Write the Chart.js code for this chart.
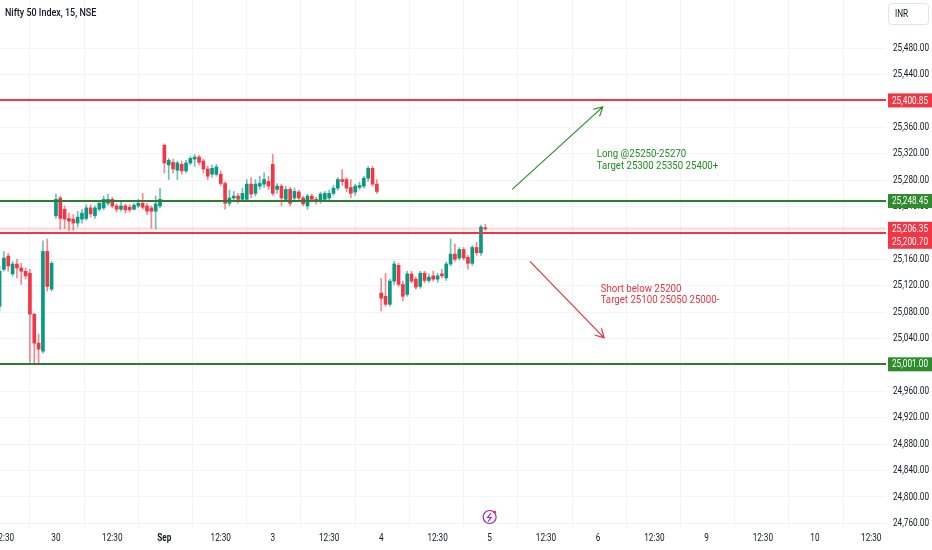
<!DOCTYPE html>
<html lang='en'>
  <head>
    <meta charset='UTF-8'>
    <title>Nifty 50 Index, 15, NSE</title>
    <script src='https://cdn.jsdelivr.net/npm/chart.js@4.4.1/dist/chart.umd.min.js'></script>
    <style>
      html, body { margin: 0; padding: 0; background: #ffffff; }
      #wrap { position: relative; width: 932px; height: 550px; }
    </style>
  </head>
  <body>
    <div id='wrap'><canvas id='grafico'></canvas></div>
    <script>
      // 15 minute bars, NSE session = 25 bars per day, index 0 = Aug 29 09:15
      const firstBar    = 12;
      const barsPerDay  = 25;
      const dayLabels   = ['29', '30', 'Sep', '3', '4', '5', '6', '9', '10'];
      const midDayLabel = '12:30';
      const midDayBar   = 13;

      // OHLC (Aug 29 12:15 -> Sep 4 15:15)
      const opens = [
        25089, 25145, 25165, 25138, 25153, 25147, 25142, 25139, 25077, 25033, 25021, 25172, 25115,
        25226, 25253, 25236, 25222, 25221, 25215, 25221, 25222, 25238, 25226, 25236, 25238, 25245,
        25251, 25241, 25236, 25241, 25239, 25236, 25241, 25245, 25241, 25238, 25233, 25241,
        25333, 25303, 25307, 25295, 25304, 25294, 25306, 25312, 25315, 25309, 25297, 25289, 25289,
        25289, 25275, 25245, 25253, 25256, 25251, 25251, 25274, 25260, 25271, 25274, 25278,
        25304, 25266, 25271, 25251, 25266, 25253, 25262, 25253, 25241, 25256, 25251, 25248, 25251,
        25253, 25260, 25268, 25281, 25281, 25269, 25262, 25269, 25271, 25283, 25298, 25274,
        25109, 25104, 25092, 25127, 25151, 25122, 25107, 25138, 25130, 25119, 25139, 25128, 25135,
        25130, 25138, 25132, 25153, 25168, 25162, 25175, 25163, 25154, 25178, 25170, 25207.5
      ];
      const highs = [
        25150, 25172, 25169, 25157, 25160, 25154, 25147, 25145, 25078, 25047, 25188, 25191, 25157,
        25259, 25256, 25241, 25230, 25228, 25233, 25236, 25243, 25243, 25241, 25248, 25256, 25259,
        25254, 25244, 25247, 25244, 25243, 25245, 25251, 25260, 25245, 25241, 25256, 25268,
        25335, 25313, 25312, 25309, 25309, 25310, 25316, 25319, 25318, 25312, 25301, 25303, 25304,
        25294, 25278, 25265, 25263, 25260, 25268, 25281, 25284, 25281, 25286, 25291, 25286,
        25319, 25275, 25274, 25271, 25269, 25268, 25265, 25256, 25259, 25259, 25254, 25262, 25263,
        25265, 25272, 25284, 25296, 25284, 25281, 25274, 25277, 25286, 25301, 25301, 25281,
        25131, 25139, 25130, 25157, 25154, 25127, 25142, 25142, 25133, 25142, 25142, 25138, 25142,
        25139, 25145, 25156, 25191, 25183, 25178, 25178, 25166, 25181, 25186, 25212, 25213
      ];
      const lows = [
        25082, 25142, 25142, 25135, 25132, 25122, 25130, 25004, 25003, 25001, 25018, 25112, 25112,
        25222, 25206, 25207, 25203, 25204, 25209, 25215, 25219, 25224, 25222, 25233, 25235, 25242,
        25238, 25232, 25233, 25230, 25232, 25235, 25238, 25236, 25228, 25207, 25206, 25238,
        25291, 25281, 25291, 25281, 25289, 25291, 25303, 25301, 25303, 25291, 25281, 25284, 25286,
        25272, 25236, 25241, 25248, 25245, 25248, 25248, 25253, 25256, 25266, 25269, 25266,
        25257, 25260, 25241, 25248, 25241, 25250, 25250, 25241, 25236, 25248, 25244, 25245, 25248,
        25250, 25257, 25265, 25272, 25263, 25253, 25257, 25266, 25268, 25278, 25271, 25260,
        25082, 25089, 25089, 25122, 25119, 25097, 25104, 25124, 25115, 25116, 25125, 25125, 25127,
        25125, 25132, 25128, 25150, 25157, 25159, 25159, 25145, 25151, 25166, 25166, 25204
      ];
      const closes = [
        25142, 25162, 25150, 25153, 25147, 25142, 25135, 25077, 25033, 25024, 25172, 25119, 25154,
        25251, 25222, 25221, 25218, 25215, 25224, 25230, 25238, 25229, 25238, 25245, 25251, 25251,
        25241, 25236, 25241, 25235, 25235, 25242, 25245, 25239, 25233, 25233, 25244, 25251,
        25306, 25310, 25297, 25306, 25294, 25306, 25313, 25315, 25307, 25297, 25286, 25298, 25300,
        25275, 25245, 25253, 25256, 25251, 25260, 25274, 25259, 25274, 25275, 25281, 25271,
        25260, 25271, 25253, 25266, 25245, 25263, 25253, 25244, 25256, 25251, 25248, 25259, 25260,
        25260, 25268, 25281, 25278, 25268, 25260, 25271, 25272, 25283, 25298, 25274, 25263,
        25101, 25092, 25127, 25153, 25122, 25104, 25138, 25127, 25118, 25139, 25128, 25133, 25130,
        25135, 25135, 25153, 25168, 25160, 25175, 25162, 25154, 25178, 25170, 25209, 25206.35
      ];

      // drawn horizontal levels
      const levelValues = [25400.85, 25248.45, 25200.70, 25001.00];
      const levelColors = ['#f23645', '#2e7d32', '#f23645', '#2e7d32'];

      // arrows and notes, in (bar index, price)
      const longArrow  = [[130.2, 25266], [151.1, 25391]];
      const shortArrow = [[134.3, 25157], [151.4, 25041]];
      const longNote   = ['Long @25250-25270', 'Target 25300 25350 25400+'];
      const shortNote  = ['Short below 25200', 'Target 25100 25050 25000-'];
      const longNoteAt  = [149.7, 25320];
      const shortNoteAt = [150.6, 25115];
      const eventBar    = 125;

      const yTickStart = 24760, yTickEnd = 25480, yTickStep = 40;
      const xMin = 12.1, xMax = 216.4;
      const yMin = 24753, yMax = 25553;

      const FONT  = 'Roboto, sans-serif';
      const TEXT  = '#131722';
      const UP    = '#089981';
      const DOWN  = '#f23645';
      const GREEN = '#2e8b2e';
      const GRID  = '#f3f4f7';
      const SQUEEZE = 0.78; // the original uses a narrow face

      let ctx = document.getElementById('grafico').getContext('2d');

      let barIdx = closes.map((c, k) => firstBar + k);
      let isUp   = k => closes[k] >= opens[k];

      // tick label lookup for the time axis
      let xTickText = {};
      dayLabels.forEach((d, n) => {
        xTickText[n * barsPerDay] = d;
        xTickText[n * barsPerDay + midDayBar] = midDayLabel;
      });

      function fmt(v) {
        return v.toLocaleString('en-US', {minimumFractionDigits: 2, maximumFractionDigits: 2});
      }

      // narrow text: squeeze horizontally around the anchor
      function narrowText(c, text, x, y, align, squeeze) {
        c.save();
        c.translate(x, y);
        c.scale(squeeze || SQUEEZE, 1);
        c.textAlign = align || 'left';
        c.textBaseline = 'middle';
        c.fillText(text, 0, 0);
        c.restore();
      }

      function arrow(c, x1, y1, x2, y2, color) {
        let a = Math.atan2(y2 - y1, x2 - x1), len = 10, spread = 0.5;
        c.strokeStyle = color;
        c.lineWidth = 1.2;
        c.beginPath();
        c.moveTo(x1, y1);
        c.lineTo(x2, y2);
        c.moveTo(x2 - len * Math.cos(a - spread), y2 - len * Math.sin(a - spread));
        c.lineTo(x2, y2);
        c.lineTo(x2 - len * Math.cos(a + spread), y2 - len * Math.sin(a + spread));
        c.stroke();
      }

      const drawings = {
        id: 'drawings',
        afterDatasetsDraw(chart) {
          let c = chart.ctx, area = chart.chartArea;
          let xs = chart.scales.x, ys = chart.scales.y;
          c.save();
          c.beginPath();
          c.rect(area.left, area.top, area.right - area.left, area.bottom - area.top);
          c.clip();

          // faint last price line
          let lastY = ys.getPixelForValue(closes[closes.length - 1]);
          c.strokeStyle = 'rgba(242, 54, 69, 0.16)';
          c.lineWidth = 3;
          c.beginPath();
          c.moveTo(area.left, lastY);
          c.lineTo(area.right, lastY);
          c.stroke();

          levelValues.forEach((v, k) => {
            let y = Math.round(ys.getPixelForValue(v));
            c.strokeStyle = levelColors[k];
            c.lineWidth = 2;
            c.beginPath();
            c.moveTo(area.left, y);
            c.lineTo(area.right, y);
            c.stroke();
          });

          arrow(c, xs.getPixelForValue(longArrow[0][0]), ys.getPixelForValue(longArrow[0][1]),
                   xs.getPixelForValue(longArrow[1][0]), ys.getPixelForValue(longArrow[1][1]), GREEN);
          arrow(c, xs.getPixelForValue(shortArrow[0][0]), ys.getPixelForValue(shortArrow[0][1]),
                   xs.getPixelForValue(shortArrow[1][0]), ys.getPixelForValue(shortArrow[1][1]), '#e8333c');

          c.font = '11.5px ' + FONT;
          c.fillStyle = '#228b22';
          longNote.forEach((t, k) => {
            narrowText(c, t, xs.getPixelForValue(longNoteAt[0]), ys.getPixelForValue(longNoteAt[1]) + k * 12.5, 'left', 0.84);
          });
          c.fillStyle = '#e8333c';
          shortNote.forEach((t, k) => {
            narrowText(c, t, xs.getPixelForValue(shortNoteAt[0]), ys.getPixelForValue(shortNoteAt[1]) + k * 11, 'left', 0.84);
          });

          // event marker on the time line
          let ex = xs.getPixelForValue(eventBar), ey = area.bottom - 11;
          c.strokeStyle = '#a020c8';
          c.lineWidth = 1.2;
          c.beginPath();
          c.arc(ex, ey, 6.5, 0, Math.PI * 2);
          c.stroke();
          c.beginPath();
          c.moveTo(ex + 1.5, ey - 4);
          c.lineTo(ex - 2, ey + 0.5);
          c.lineTo(ex + 1.5, ey + 0.5);
          c.lineTo(ex - 1.5, ey + 4.5);
          c.stroke();
          c.fillStyle = '#f23645';
          c.beginPath();
          c.arc(ex + 5, ey - 5, 1.6, 0, Math.PI * 2);
          c.fill();
          c.restore();
        },
        afterDraw(chart) {
          let c = chart.ctx, area = chart.chartArea;
          let xs = chart.scales.x, ys = chart.scales.y;
          c.save();
          c.fillStyle = TEXT;
          c.font = '10.5px ' + FONT;

          // axis labels, placed on the library's own ticks
          xs.ticks.forEach(t => {
            let label = xTickText[t.value];
            c.font = (label === 'Sep' ? 'bold ' : '') + '10.5px ' + FONT;
            narrowText(c, label, xs.getPixelForValue(t.value), area.bottom + 10, 'center');
          });
          c.font = '10.5px ' + FONT;
          ys.ticks.forEach(t => {
            narrowText(c, fmt(t.value), area.right + 7, ys.getPixelForValue(t.value), 'left');
          });

          // price tags on the right axis, pushed apart when they touch
          let tags = levelValues.map((v, k) => ({v: v, color: levelColors[k] === DOWN ? DOWN : GREEN}));
          tags.push({v: closes[closes.length - 1], color: DOWN});
          tags.forEach(t => t.y = ys.getPixelForValue(t.v));
          tags.sort((a, b) => a.y - b.y);
          for (let k = 1; k < tags.length; k++) {
            if (tags[k].y - tags[k - 1].y < 13) tags[k].y = tags[k - 1].y + 13;
          }
          tags.forEach(t => {
            c.fillStyle = t.color;
            c.fillRect(area.right + 2, t.y - 7, 44, 14);
            c.fillStyle = '#ffffff';
            narrowText(c, fmt(t.v), area.right + 6, t.y + 0.5, 'left');
          });

          // title
          c.fillStyle = TEXT;
          c.font = '500 11.5px ' + FONT;
          narrowText(c, 'Nifty 50 Index, 15, NSE', 5, 13, 'left');

          // currency box
          c.strokeStyle = '#e0e3eb';
          c.lineWidth = 1;
          c.beginPath();
          c.roundRect(area.right + 2.5, 3.5, 40, 21, 3);
          c.stroke();
          c.font = '10.5px ' + FONT;
          narrowText(c, 'INR', area.right + 9, 14, 'left');
          c.restore();
        }
      };

      function noPadding(s) {
        s.paddingLeft = 0;
        s.paddingRight = 0;
        s.paddingTop = 0;
        s.paddingBottom = 0;
      }

      let chartConfig = {
        type: 'bar',
        data: {
          datasets: [
            {
              label: 'wicks',
              data: barIdx.map((x, k) => ({x: x, y: [lows[k], highs[k]]})),
              backgroundColor: c => isUp(c.dataIndex) ? 'rgba(8, 153, 129, 0.6)' : 'rgba(242, 54, 69, 0.6)',
              barThickness: 1,
              grouped: false,
              order: 2,
            },
            {
              label: 'bodies',
              data: barIdx.map((x, k) => ({x: x, y: [opens[k], closes[k]]})),
              backgroundColor: c => isUp(c.dataIndex) ? UP : DOWN,
              barThickness: 3,
              minBarLength: 1,
              grouped: false,
              order: 1,
            },
          ],
        },
        options: {
          responsive: true,
          maintainAspectRatio: false,
          animation: false,
          layout: {padding: 0},
          plugins: {
            legend: {display: false},
            tooltip: {enabled: false},
          },
          scales: {
            x: {
              type: 'linear',
              min: xMin,
              max: xMax,
              offset: false,
              grid: {color: GRID, drawTicks: false},
              border: {display: false},
              afterBuildTicks: s => {
                s.ticks = Object.keys(xTickText).map(Number)
                  .filter(v => v >= s.min && v <= s.max)
                  .map(v => ({value: v}));
              },
              ticks: {display: false},
              afterFit: s => { s.height = 22; noPadding(s); },
            },
            y: {
              position: 'right',
              min: yMin,
              max: yMax,
              grid: {color: GRID, drawTicks: false},
              border: {display: false},
              afterBuildTicks: s => {
                let t = [];
                for (let v = yTickStart; v <= yTickEnd; v += yTickStep) t.push({value: v});
                s.ticks = t;
              },
              ticks: {display: false},
              afterFit: s => { s.width = 46; noPadding(s); },
            },
          },
        },
        plugins: [drawings],
      };

      let myChart = new Chart(ctx, chartConfig);
    </script>
  </body>
</html>
